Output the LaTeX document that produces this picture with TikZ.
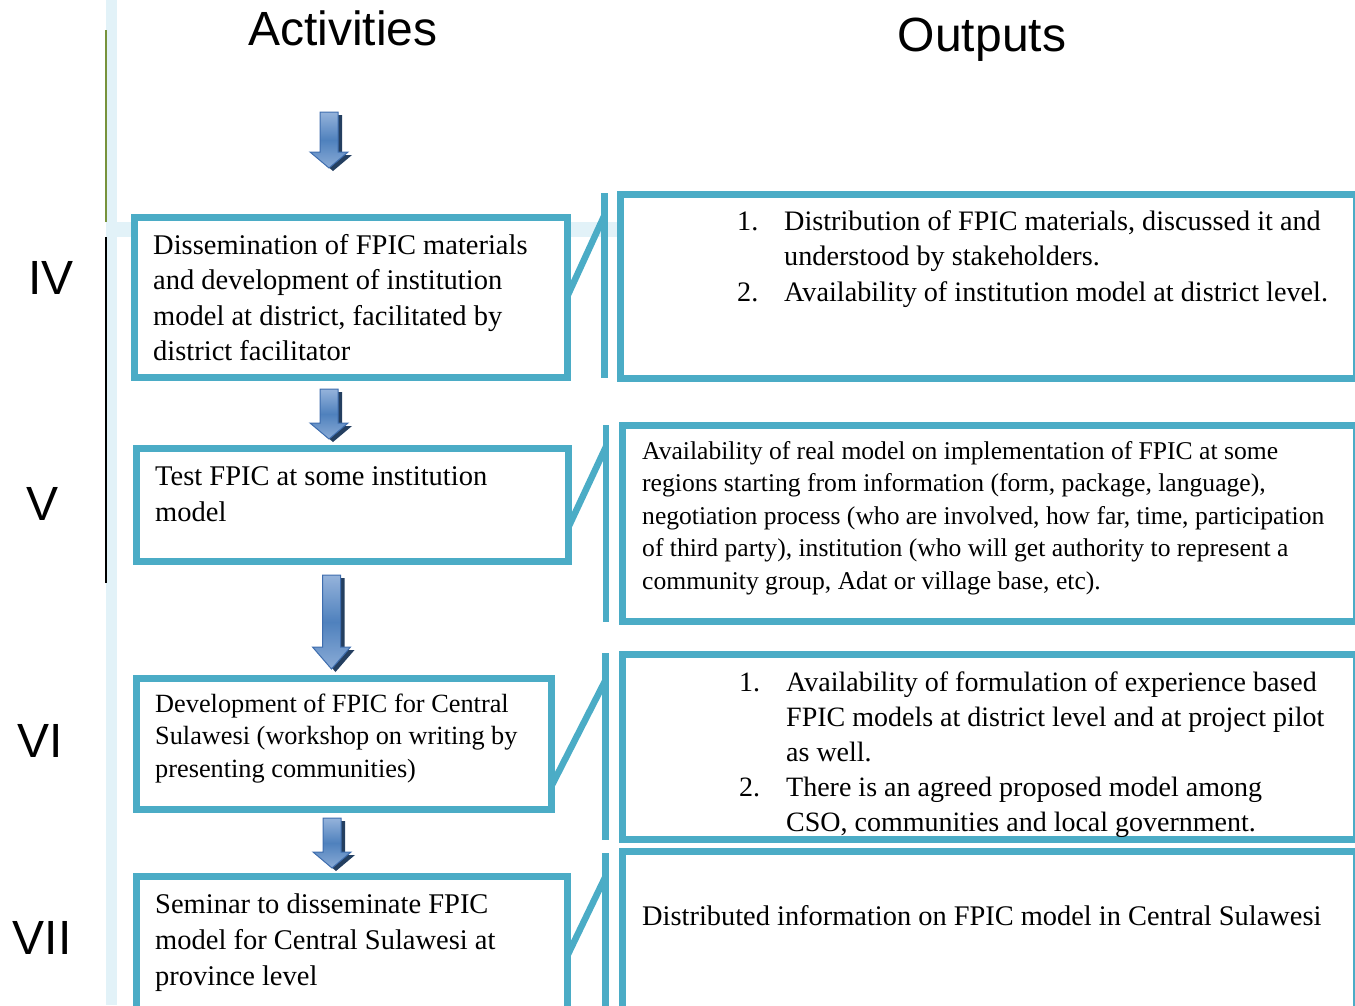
\documentclass[tikz,border=0pt]{standalone}
\usepackage{fontspec}
\setmainfont{Liberation Serif}
\newfontfamily\headfont{Liberation Sans}
\usetikzlibrary{calc, positioning}

\definecolor{boxblue}{HTML}{4BACC6}
\definecolor{lightbar}{HTML}{E2F2F8}
\definecolor{leafgreen}{HTML}{77933C}
\definecolor{arrowtop}{HTML}{95B3DB}
\definecolor{arrowmid}{HTML}{4F81BD}
\definecolor{arrowedge}{HTML}{3E6DAE}
\definecolor{arrowshadow}{HTML}{243F60}

\tikzset{
  stagebox/.style={draw=boxblue, fill=white, line width=7pt, anchor=north west, inner sep=0pt, outer sep=0pt},
  boxtext/.style={anchor=base west, inner sep=0pt, font=\fontsize{28.5}{35.5}\selectfont},
  linkbar/.style={boxblue, line width=6.5pt},
  headtitle/.style={anchor=base, inner sep=0pt, font=\headfont\fontsize{48}{48}\selectfont},
  numeral/.style={anchor=base, inner sep=0pt, font=\headfont\fontsize{48}{48}\selectfont},
  blockarrow/.style={draw=arrowedge, line width=1pt, top color=arrowtop, bottom color=arrowtop!85!arrowmid, middle color=arrowmid},
}

\begin{document}
\begin{tikzpicture}[x=1pt,y=-1pt,line join=miter]
\useasboundingbox (0,0) rectangle (1355,1005);
\clip (0,0) rectangle (1355,1005);

% --- background bars on the left ---
\fill[lightbar] (106,0) rectangle (117,1005);
\fill[lightbar] (106,222) rectangle (619,237);
\draw[leafgreen, line width=1.2pt] (106,30) -- (106,222);
\draw[black, line width=1.2pt] (106,237) -- (106,583);

% --- column titles ---
\node[headtitle] (actTitle) at (343,45) {Activities};
\node[headtitle] (outTitle) at (982,51) {Outputs};

% --- stage numbers ---
\node[numeral] (stIV) at (51,294) {IV};
\node[numeral] (stV) at (43,520) {V};
\node[numeral] (stVI) at (40,757) {VI};
\node[numeral] (stVII) at (42,954) {VII};

% --- activity boxes ---
\node[stagebox, minimum width=433, minimum height=160] (actIV) at (134.5,217.5) {};
\node[stagebox, minimum width=432, minimum height=113] (actV) at (136.5,448.5) {};
\node[stagebox, minimum width=415, minimum height=131] (actVI) at (136.5,678.5) {};
\node[stagebox, minimum width=431, minimum height=136] (actVII) at (136.5,876.5) {};

\node[boxtext] (actIVtext) at (153,254) {\begin{tabular}[t]{@{}l@{}}
Dissemination of FPIC materials\\
and development of institution\\
model at district, facilitated by\\
district facilitator\end{tabular}};
\node[boxtext, font=\fontsize{28.5}{36}\selectfont] (actVtext) at (155,485) {\begin{tabular}[t]{@{}l@{}}
Test FPIC at some institution\\
model\end{tabular}};
\node[boxtext, font=\fontsize{26.3}{32.5}\selectfont] (actVItext) at (155,712) {\begin{tabular}[t]{@{}l@{}}
Development of FPIC for Central\\
Sulawesi (workshop on writing by\\
presenting communities)\end{tabular}};
\node[boxtext, font=\fontsize{28.5}{36}\selectfont] (actVIItext) at (155,913) {\begin{tabular}[t]{@{}l@{}}
Seminar to disseminate FPIC\\
model for Central Sulawesi at\\
province level\end{tabular}};

% --- output boxes (cut by the right margin) ---
\node[stagebox, minimum width=736, minimum height=184] (outIV) at (620.5,194.5) {};
\node[stagebox, minimum width=734, minimum height=196] (outV) at (622.5,425.5) {};
\node[stagebox, minimum width=734, minimum height=185] (outVI) at (622.5,654.5) {};
\node[stagebox, minimum width=734, minimum height=160] (outVII) at (622.5,851.5) {};

\node[boxtext, font=\fontsize{28.2}{35.5}\selectfont] (outIVtext) at (737,230) {\begin{tabular}[t]{@{}p{47pt}@{}l@{}}
1. & Distribution of FPIC materials, discussed it and\\
   & understood by stakeholders.\\
2. & Availability of institution model at district level.\end{tabular}};
\node[boxtext, font=\fontsize{25.6}{32.5}\selectfont] (outVtext) at (642,459) {\begin{tabular}[t]{@{}l@{}}
Availability of real model on implementation of FPIC at some\\
regions starting from information (form, package, language),\\
negotiation process (who are involved, how far, time, participation\\
of third party), institution (who will get authority to represent a\\
community group, Adat or village base, etc).\end{tabular}};
\node[boxtext, font=\fontsize{28}{35}\selectfont] (outVItext) at (739,691) {\begin{tabular}[t]{@{}p{47pt}@{}l@{}}
1. & Availability of formulation of experience based\\
   & FPIC models at district level and at project pilot\\
   & as well.\\
2. & There is an agreed proposed model among\\
   & CSO, communities and local government.\end{tabular}};
\node[boxtext, font=\fontsize{28.4}{35}\selectfont] (outVIItext) at (642,925) {Distributed information on FPIC model in Central Sulawesi};

% --- links between activity and output ---
\coordinate (barIVtop) at (604.5,193);  \coordinate (barIVbot) at (604.5,378);
\coordinate (barVtop) at (606,425);     \coordinate (barVbot) at (606,622);
\coordinate (barVItop) at (605.5,653);  \coordinate (barVIbot) at (605.5,840);
\coordinate (barVIItop) at (605.5,853); \coordinate (barVIIbot) at (605.5,1010);

\draw[linkbar] (barIVtop) -- (barIVbot);
\draw[linkbar] (barVtop) -- (barVbot);
\draw[linkbar] (barVItop) -- (barVIbot);
\draw[linkbar] (barVIItop) -- (barVIIbot);

\draw[linkbar] ($(actIV.north east)!0.49!(actIV.south east)$) -- ($(barIVtop)!0.12!(barIVbot)$);
\draw[linkbar] ($(actV.north east)!0.695!(actV.south east)$) -- ($(barVtop)!0.11!(barVbot)$);
\draw[linkbar] ($(actVI.north east)!0.82!(actVI.south east)$) -- ($(barVItop)!0.145!(barVIbot)$);
\draw[linkbar] ($(actVII.north east)!0.58!(actVII.south east)$) -- ($(barVIItop)!0.15!(barVIIbot)$);

% --- block arrows down the activity column ---
\foreach \cx/\ty/\hy/\by in {329/112/152/168, 329/389/423/439, 331.5/575/647/669, 332/818/852/868}{
  \fill[arrowshadow] ({\cx-5},{\ty+3}) -- ({\cx+13},{\ty+3}) -- ({\cx+13},{\hy+3}) -- ({\cx+23},{\hy+3})
    -- ({\cx+4},{\by+3}) -- ({\cx-15},{\hy+3}) -- ({\cx-5},{\hy+3}) -- cycle;
  \draw[blockarrow] ({\cx-9},\ty) -- ({\cx+9},\ty) -- ({\cx+9},\hy) -- ({\cx+19},\hy)
    -- (\cx,\by) -- ({\cx-19},\hy) -- ({\cx-9},\hy) -- cycle;
}

\end{tikzpicture}
\end{document}
